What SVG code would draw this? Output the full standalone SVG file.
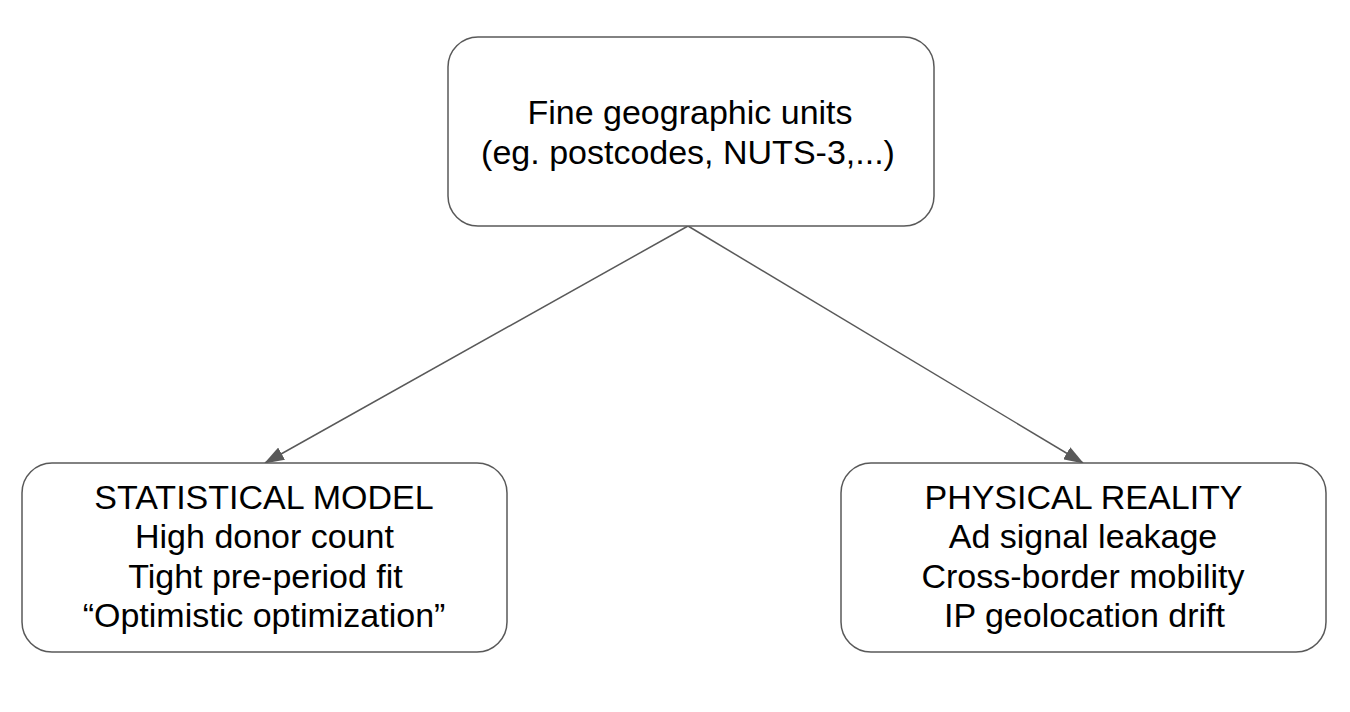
<svg xmlns="http://www.w3.org/2000/svg" width="1350" height="712" viewBox="0 0 1350 712">
<style>
.box{fill:#ffffff;stroke:#595959;stroke-width:1.5}
.conn{stroke:#595959;stroke-width:1.5;fill:none}
text{font-family:"Liberation Sans",Arial,sans-serif;font-size:34px;fill:#000000;text-anchor:middle}
</style>
<defs>
<marker id="arrow" viewBox="0 0 20 14" refX="19" refY="7" markerWidth="20" markerHeight="14" markerUnits="userSpaceOnUse" orient="auto">
<path d="M0,0 L20,7 L0,14 Z" fill="#595959"/>
</marker>
</defs>
<rect width="1350" height="712" fill="#ffffff"/>
<g id="connectors">
<line class="conn" x1="688" y1="226" x2="265" y2="463" marker-end="url(#arrow)"/>
<line class="conn" x1="688" y1="226" x2="1083" y2="463" marker-end="url(#arrow)"/>
</g>
<g id="node-fine">
<rect class="box" x="448" y="37" width="486" height="189" rx="30" ry="30"/>
<text x="690" y="124">Fine geographic units</text>
<text x="688" y="163.5">(eg. postcodes, NUTS-3,...)</text>
</g>
<g id="node-statistical">
<rect class="box" x="22" y="463" width="485" height="189" rx="30" ry="30"/>
<text x="264" y="508.5">STATISTICAL MODEL</text>
<text x="264.5" y="548">High donor count</text>
<text x="265.5" y="587.5">Tight pre-period fit</text>
<text x="264" y="627">“Optimistic optimization”</text>
</g>
<g id="node-physical">
<rect class="box" x="841" y="463" width="485" height="189" rx="30" ry="30"/>
<text x="1083.5" y="508.5">PHYSICAL REALITY</text>
<text x="1083" y="548">Ad signal leakage</text>
<text x="1083" y="587.5">Cross-border mobility</text>
<text x="1084.5" y="627">IP geolocation drift</text>
</g>
</svg>
